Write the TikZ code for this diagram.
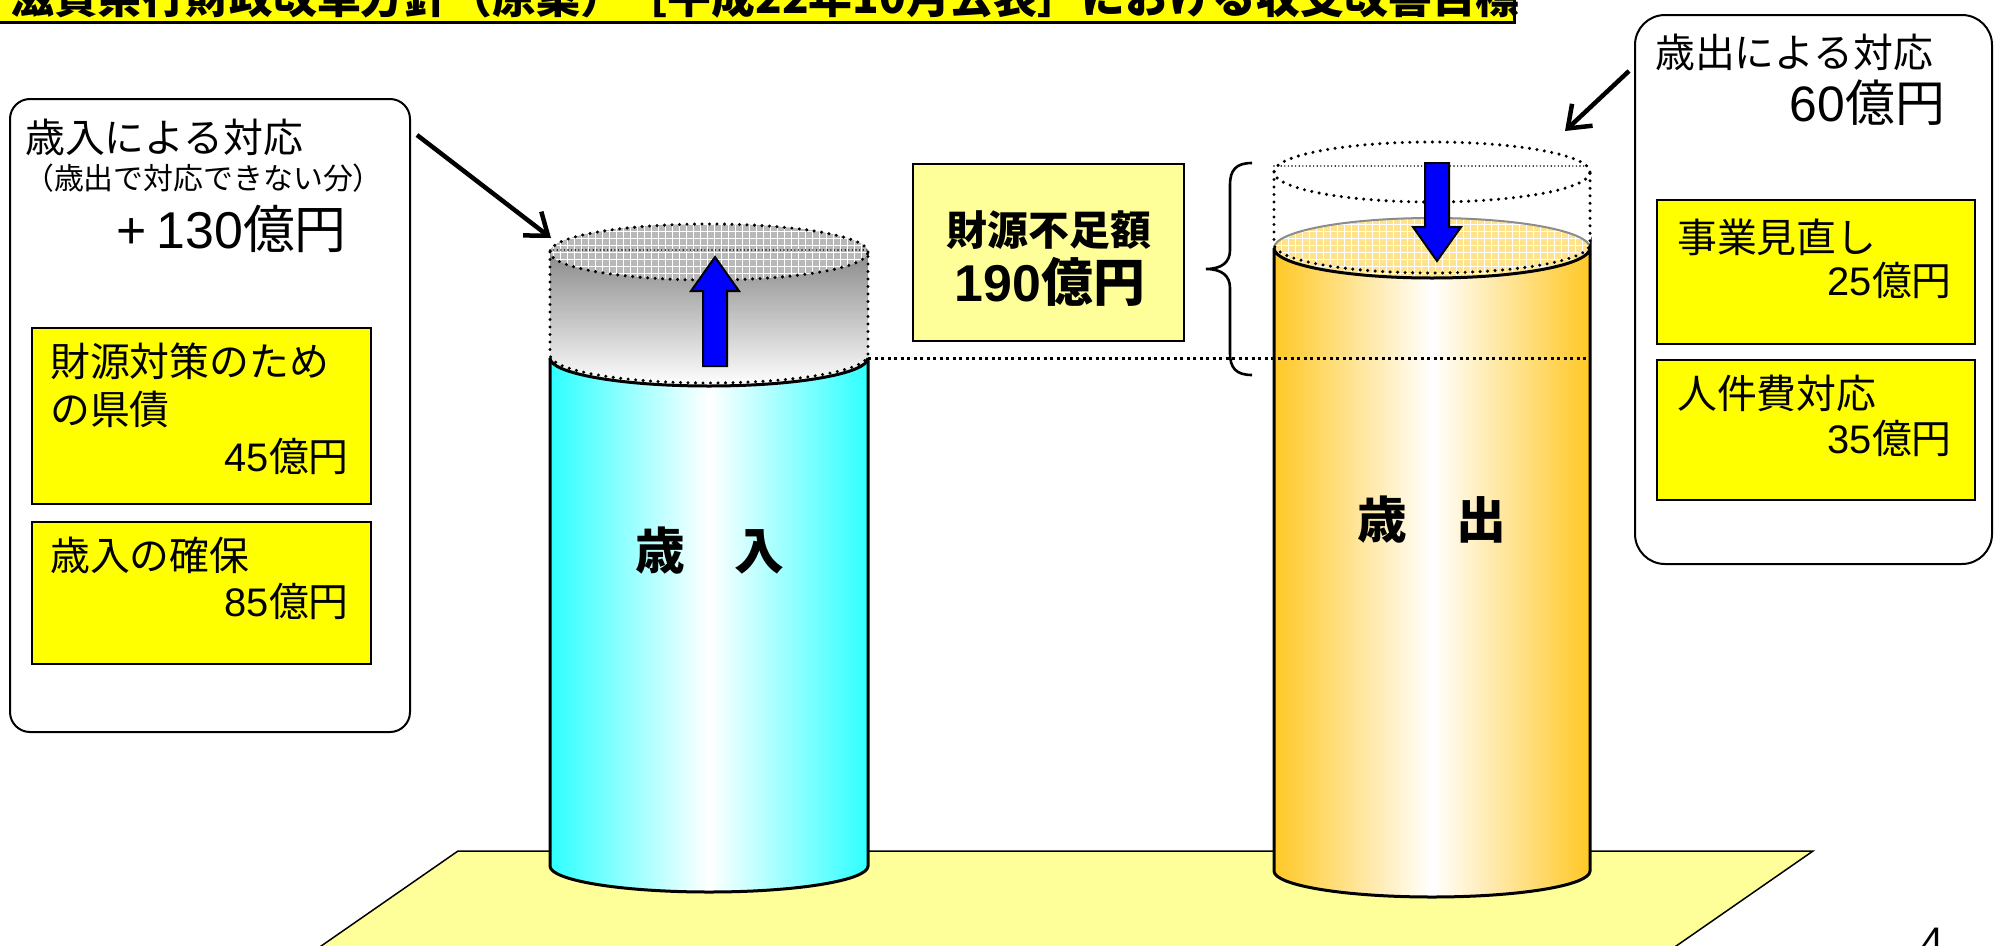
\documentclass[tikz,border=0pt]{standalone}
\usepackage{fontspec}
\setmainfont{Noto Sans CJK JP}
\newfontfamily\ar{Liberation Sans}
\usetikzlibrary{arrows.meta}
\definecolor{ylw}{HTML}{FFFF00}
\definecolor{lyl}{HTML}{FFFF99}
\definecolor{cyn}{HTML}{2EFFFF}
\definecolor{amb}{HTML}{FFC826}
\definecolor{facey}{HTML}{FFE38C}
\newcommand{\myfs}[1]{\fontsize{#1}{#1}\selectfont}
\begin{document}
\begin{tikzpicture}[x=1bp,y=1bp,
  txt/.style={inner sep=0pt, font={\myfs{40}}},
  ybox/.style={draw=black, line width=2bp, fill=ylw},
  rbox/.style={draw=black, line width=2bp, fill=white},
  bigdots/.style={line width=3.4bp, line cap=round, dash pattern=on 0bp off 7.5bp},
  thindots/.style={line width=1.6bp, line cap=round, dash pattern=on 0bp off 3.6bp},
  leveldots/.style={line width=3bp, dash pattern=on 3bp off 3.5bp},
  blk/.style={-{Straight Barb[length=20bp, width=30bp]}, line width=4.5bp},
  barrow/.style={fill=blue, draw=black, line width=2bp, line join=miter}]
\useasboundingbox (0,0) rectangle (1995,-946);
\clip (0,0) rectangle (1995,-946);
\fill[white] (0,0) rectangle (1995,-946);

% platform
\filldraw[fill=lyl, line width=1.5bp] (458,-851) -- (1813,-851) -- (1656,-960) -- (301,-960) -- cycle;

% title
\filldraw[fill=ylw, line width=3bp] (-10,30) rectangle (1514,-22);
\node[anchor=base west, inner sep=0pt, font={\myfs{44}\bfseries}] (title) at (10,-13) {滋賀県行財政改革方針（原案）［平成22年10月公表］における収支改善目標};

% left box
\draw[rbox, rounded corners=20bp] (10,-99) rectangle (410,-732);
\node[txt, anchor=west] (l1) at (25,-137) {歳入による対応};
\node[txt, anchor=west, font={\myfs{30}}] (l2) at (24,-178) {（歳出で対応できない分）};
\node[txt, anchor=east, font={\myfs{52}}] (l3) at (347,-229) {{\ar +\hspace{10bp}130}億円};
\draw[ybox] (32,-328) rectangle (371,-504);
\node[txt, anchor=west] (l4) at (50,-361) {財源対策のため};
\node[txt, anchor=west] (l5) at (50,-409) {の県債};
\node[txt, anchor=east] (l6) at (349,-456) {{\ar 45}億円};
\draw[ybox] (32,-522) rectangle (371,-664);
\node[txt, anchor=west] (l7) at (50,-555) {歳入の確保};
\node[txt, anchor=east] (l8) at (349,-601) {{\ar 85}億円};

% right box
\draw[rbox, rounded corners=30bp] (1635,-15) rectangle (1992,-564);
\node[txt, anchor=west] (r1) at (1655,-52) {歳出による対応};
\node[txt, anchor=east, font={\myfs{50}}] (r2) at (1945,-103) {{\ar 60}億円};
\draw[ybox] (1657,-200) rectangle (1975,-344);
\node[txt, anchor=west] (r3) at (1677,-237) {事業見直し};
\node[txt, anchor=east] (r4) at (1952,-280) {{\ar 25}億円};
\draw[ybox] (1657,-360) rectangle (1975,-500);
\node[txt, anchor=west] (r5) at (1677,-393) {人件費対応};
\node[txt, anchor=east] (r6) at (1952,-438) {{\ar 35}億円};

% ---------- left cylinder (revenue)
\shade[left color=cyn, right color=cyn, middle color=white]
  (550,-358) -- (550,-866) arc[start angle=180, end angle=360, x radius=159, y radius=26]
  -- (868,-358) arc[start angle=0, end angle=180, x radius=159, y radius=28] -- cycle;
\draw[line width=3bp] (550,-358) -- (550,-866) arc[start angle=180, end angle=360, x radius=159, y radius=26] -- (868,-358);
\shade[top color=black!55, bottom color=white]
  (550,-252) -- (550,-358) arc[start angle=180, end angle=360, x radius=159, y radius=28]
  -- (868,-252) arc[start angle=0, end angle=180, x radius=159, y radius=28] -- cycle;
\draw[line width=3bp] (550,-358) arc[start angle=180, end angle=360, x radius=159, y radius=28];
\begin{scope}
  \clip (709,-252) ellipse [x radius=159, y radius=28];
  \fill[black!28] (540,-290) rectangle (880,-215);
  \draw[white, line width=0.8bp, step=7] (540,-290) grid (880,-215);
\end{scope}
\draw[bigdots] (709,-252) ellipse [x radius=159, y radius=28];
\draw[bigdots] (550,-252) -- (550,-355) arc[start angle=180, end angle=360, x radius=159, y radius=28] -- (868,-252);
\draw[thindots] (550,-250) -- (868,-250);
\draw[barrow] (703,-366) -- (703,-291) -- (691,-291) -- (715,-257) -- (739,-291) -- (727,-291) -- (727,-366) -- cycle;
\node[inner sep=0pt, font={\myfs{50}\bfseries}] (inlbl) at (710,-551) {歳　入};

% ---------- right cylinder (expenditure)
\shade[left color=amb, right color=amb, middle color=white]
  (1274,-248) -- (1274,-871) arc[start angle=180, end angle=360, x radius=158, y radius=26]
  -- (1590,-248) arc[start angle=0, end angle=180, x radius=158, y radius=30] -- cycle;
\begin{scope}
  \clip (1432,-248) ellipse [x radius=158, y radius=30];
  \fill[facey] (1260,-290) rectangle (1600,-210);
  \draw[white, line width=0.8bp, step=7] (1260,-290) grid (1600,-210);
\end{scope}
\draw[black!45, line width=2bp] (1590,-248) arc[start angle=0, end angle=180, x radius=158, y radius=30];
\draw[line width=3bp] (1274,-248) -- (1274,-871) arc[start angle=180, end angle=360, x radius=158, y radius=26]
  -- (1590,-248) arc[start angle=0, end angle=-180, x radius=158, y radius=30];
\draw[bigdots] (1432,-172) ellipse [x radius=158, y radius=30];
\draw[bigdots] (1274,-172) -- (1274,-244) arc[start angle=180, end angle=360, x radius=158, y radius=29] -- (1590,-172);
\draw[thindots] (1274,-166) -- (1590,-166);
\draw[barrow] (1425,-163) -- (1449,-163) -- (1449,-227) -- (1461,-227) -- (1437,-261) -- (1413,-227) -- (1425,-227) -- cycle;
\node[inner sep=0pt, font={\myfs{50}\bfseries}] (outlbl) at (1432,-520) {歳　出};

% level line
\coordinate (lv1) at (868,-358);
\coordinate (lv2) at (1590,-358);
\draw[leveldots] (lv1) -- (lv2);

% brace
\draw[line width=2.6bp] (1252,-163) .. controls (1236,-163) and (1230,-170) .. (1230,-185)
  -- (1230,-250) .. controls (1230,-262) and (1222,-269) .. (1206,-269)
  .. controls (1222,-269) and (1230,-276) .. (1230,-288)
  -- (1230,-353) .. controls (1230,-368) and (1236,-375) .. (1252,-375);

% shortfall label
\draw[fill=lyl, line width=2.5bp] (913,-164) rectangle (1184,-341);
\node[inner sep=0pt, font={\myfs{41}\bfseries}] (sf1) at (1049,-230) {財源不足額};
\node[inner sep=0pt, font={\myfs{52}\bfseries}] (sf2) at (1050,-282) {{\ar 190}億円};

% black arrows
\coordinate (la1) at (417,-135);
\coordinate (la2) at (551,-238);
\draw[blk] (la1) -- (la2);
\coordinate (ra1) at (1629,-71);
\coordinate (ra2) at (1565,-131);
\draw[blk] (ra1) -- (ra2);

% page number
\node[anchor=base, inner sep=0pt, font={\ar\myfs{40}}] (pg) at (1933,-955) {4};
\end{tikzpicture}
\end{document}
